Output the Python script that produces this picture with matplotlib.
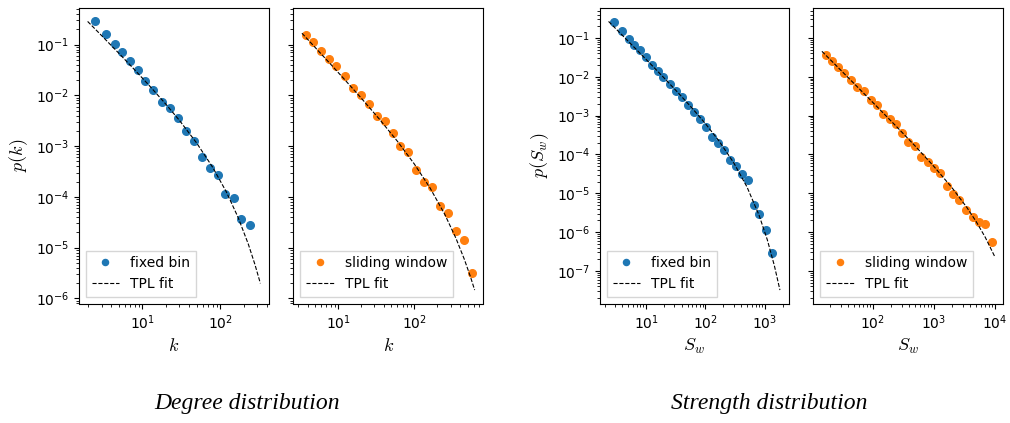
import numpy as np
import matplotlib
matplotlib.use('Agg')
import matplotlib.pyplot as plt

plt.rcParams['mathtext.fontset'] = 'cm'
plt.rcParams['font.size'] = 10

# degree distribution, fixed bin
k_fixed = [2.44, 3.46, 4.43, 5.46, 6.93, 8.87, 10.9, 13.9, 17.8, 22.5, 28.4, 36.3, 46.1,
           58.0, 73.4, 93.2, 117, 150, 187, 239]
p_k_fixed = [0.286, 0.160, 0.103, 0.0705, 0.0467, 0.0314, 0.0193, 0.0130, 0.0075, 0.00571,
             0.00356, 0.00197, 0.00128, 0.000600, 0.000363, 0.000268, 0.000116, 9.35e-5,
             3.69e-5, 2.85e-5]
k_fixed_fit = [1.98, 3, 5, 8, 12, 20, 30, 50, 80, 120, 170, 230, 280, 329]
p_k_fixed_fit = [0.286, 0.150, 0.0672, 0.0316, 0.01622, 0.00674, 0.00321, 0.001147, 0.000385,
                 0.000126, 3.96e-5, 1.18e-5, 4.67e-6, 1.98e-6]

# degree distribution, sliding window
k_slide = [3.79, 4.64, 5.91, 7.69, 9.51, 12.2, 15.8, 19.7, 25.1, 31.9, 40.7, 51.9, 65.5, 83.4,
           105, 134, 169, 215, 275, 350, 441, 562]
p_k_slide = [0.158, 0.111, 0.0760, 0.0527, 0.0372, 0.0246, 0.0142, 0.0100, 0.00665, 0.00396,
             0.00306, 0.00182, 0.00101, 0.000765, 0.000331, 0.000194, 0.000159, 6.68e-5,
             4.71e-5, 2.10e-5, 1.44e-5, 3.2e-6]
k_slide_fit = [3.36, 5, 8, 12, 20, 35, 60, 100, 160, 250, 350, 450, 540, 616]
p_k_slide_fit = [0.1677, 0.0881, 0.0410, 0.0210, 0.00891, 0.00336, 0.001242, 0.000442,
                 0.0001508, 4.53e-5, 1.534e-5, 5.95e-6, 2.73e-6, 1.46e-6]

# strength distribution, fixed bin
s_fixed = [2.88, 3.98, 5.16, 6.19, 7.92, 10, 12.8, 16.0, 19.6, 25.1, 32.1, 40.6, 51.3, 63.9,
           80.8, 103, 129, 163, 205, 256, 323, 408, 516, 652, 813, 1040, 1313]
p_s_fixed = [0.255, 0.149, 0.0961, 0.0672, 0.0488, 0.0321, 0.0199, 0.0139, 0.0097, 0.00638,
             0.00428, 0.00294, 0.00189, 0.00125, 0.000819, 0.000497, 0.000279, 0.000195,
             0.000131, 7.34e-5, 5.03e-5, 3.18e-5, 2.22e-5, 4.88e-6, 2.96e-6, 1.14e-6, 2.94e-7]
s_fixed_fit = [2.34, 4, 7, 12, 20, 35, 60, 100, 170, 300, 500, 800, 1100, 1450, 1795]
p_s_fixed_fit = [0.2655, 0.1162, 0.0489, 0.02108, 0.0094, 0.003805, 0.001539, 0.000619,
                 0.0002196, 6.06e-5, 1.458e-5, 2.71e-6, 6.34e-7, 1.348e-7, 3.21e-8]

# strength distribution, sliding window
s_slide = [17.0, 21.6, 27.5, 34.5, 44.5, 56.6, 72.9, 92.7, 118, 150, 191, 243, 308, 387, 492,
           626, 796, 1012, 1288, 1637, 2083, 2649, 3367, 4335, 5516, 7015, 8933]
p_s_slide = [0.0369, 0.0248, 0.0180, 0.0126, 0.00811, 0.00556, 0.00429, 0.00245, 0.00185,
             0.00108, 0.000803, 0.000596, 0.000362, 0.000211, 0.000163, 8.61e-5, 6.51e-5,
             4.55e-5, 3.31e-5, 1.52e-5, 9.8e-6, 6.6e-6, 3.8e-6, 2.48e-6, 1.77e-6, 1.63e-6,
             5.56e-7]
s_slide_fit = [14.8, 30, 60, 120, 250, 500, 1000, 2000, 3500, 5000, 7000, 10000]
p_s_slide_fit = [0.0451, 0.01483, 0.004963, 0.001653, 0.000509, 0.0001633, 4.995e-5,
                 1.387e-5, 4.31e-6, 1.841e-6, 7.38e-7, 2.36e-7]

W, H = 1010, 423
fig = plt.figure(figsize=(W / 100, H / 100), dpi=100, facecolor='w')


def px_axes(left, right, top=8, bottom=303.5, sharey=None):
    return fig.add_axes([left / W, 1 - bottom / H, (right - left) / W, (bottom - top) / H],
                        sharey=sharey)


ax1 = px_axes(79, 269)
ax2 = px_axes(293.3, 483.3, sharey=ax1)
ax3 = px_axes(600, 788.5)
ax4 = px_axes(813.3, 1003.3, sharey=ax3)

panels = [
    (ax1, k_fixed, p_k_fixed, k_fixed_fit, p_k_fixed_fit, 'tab:blue', 'fixed bin'),
    (ax2, k_slide, p_k_slide, k_slide_fit, p_k_slide_fit, 'tab:orange', 'sliding window'),
    (ax3, s_fixed, p_s_fixed, s_fixed_fit, p_s_fixed_fit, 'tab:blue', 'fixed bin'),
    (ax4, s_slide, p_s_slide, s_slide_fit, p_s_slide_fit, 'tab:orange', 'sliding window'),
]
for ax, x, y, xf, yf, c, lab in panels:
    ax.plot(x, y, 'o', color=c, ms=5.5, label=lab)
    ax.plot(xf, yf, 'k--', lw=0.8, label='TPL fit')
    ax.set_xscale('log')
    ax.set_yscale('log')
    ax.legend(loc='lower left', fontsize=10, fancybox=False, markerscale=0.8)

plt.setp(ax2.get_yticklabels(), visible=False)
plt.setp(ax4.get_yticklabels(), visible=False)

ax1.set_xlabel(r'$k$', fontsize=13)
ax2.set_xlabel(r'$k$', fontsize=13)
ax1.set_ylabel(r'$p(k)$', fontsize=13)
ax3.set_xlabel(r'$S_w$', fontsize=13)
ax4.set_xlabel(r'$S_w$', fontsize=13)
ax3.set_ylabel(r'$p(S_w)$', fontsize=13)

fig.text(247.5 / W, 1 - 403 / H, 'Degree distribution', ha='center', va='center',
         family='Liberation Serif', style='italic', fontsize=17)
fig.text(769.5 / W, 1 - 403 / H, 'Strength distribution', ha='center', va='center',
         family='Liberation Serif', style='italic', fontsize=17)

fig.savefig('out.png', dpi=100)
